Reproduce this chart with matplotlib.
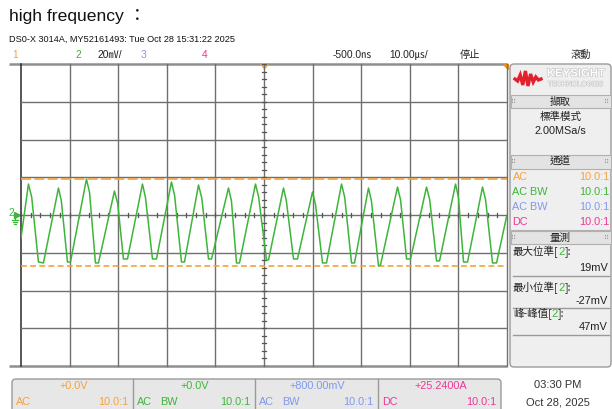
import matplotlib
matplotlib.use('Agg')
import matplotlib.pyplot as plt
from matplotlib.patches import FancyBboxPatch, Rectangle
import matplotlib.patheffects as pe
import numpy as np

# ---------------- data ----------------
time_us = [-50.0, -48.47, -47.8, -46.41, -45.38, -42.29, -41.7, -40.44, -39.82,
           -36.53, -35.9, -34.68, -34.06, -30.77, -30.1, -28.92, -28.09,
           -25.01, -24.4, -22.95, -22.12, -19.04, -18.4, -16.98, -16.36,
           -13.48, -12.8, -11.42, -10.80, -7.31, -6.7, -5.66, -5.04,
           -1.75, -1.1, 0.51, 0.93, 4.01, 4.6, 6.07, 6.89,
           9.98, 10.6, 12.04, 12.86, 15.95, 16.6, 18.01, 18.62,
           21.50, 22.1, 23.56, 23.97, 27.47, 28.1, 29.33, 30.15,
           33.44, 34.1, 35.50, 36.12, 39.41, 40.0, 41.06, 41.88,
           44.96, 45.6, 47.02, 47.85, 49.9]
volt_mV = [-12.2, 16.4, 9.5, -24.9, -25.4, 14.3, 7.4, -24.9, -24.9,
           19.0, 12.0, -25.4, -25.4, 12.7, 6.0, -23.3, -23.3,
           16.4, 9.5, -23.3, -23.3, 17.5, 10.5, -24.9, -24.9,
           15.9, 9.0, -23.3, -23.3, 14.3, 7.5, -25.4, -25.4,
           16.4, 9.5, -23.8, -23.8, 14.3, 7.5, -23.3, -23.3,
           12.2, 5.5, -25.4, -25.4, 16.4, 9.5, -25.4, -25.4,
           14.3, 7.5, -27.0, -26.5, 14.8, 8.0, -23.3, -23.3,
           14.8, 8.0, -24.3, -24.3, 16.4, 9.5, -24.9, -24.9,
           14.8, 8.0, -25.4, -25.4, -1.0]

max_level_mV = 19
min_level_mV = -27
pp_mV = 47

title = 'high frequency ：'
subtitle = 'DS0-X 3014A, MY52161493: Tue Oct 28 15:31:22 2025'
ch_colors = ['#f5a23c', '#3db53a', '#7f98ef', '#ee3796']
ch_offsets = ['+0.0V', '+0.0V', '+800.00mV', '+25.2400A']
ch_coupling_bar = [['AC'], ['AC', 'BW'], ['AC', 'BW'], ['DC']]
ch_coupling_panel = ['AC', 'AC BW', 'AC BW', 'DC']
ch_probe = ['10.0:1', '10.0:1', '10.0:1', '10.0:1']
meas_labels = ['最大位準', '最小位準', '峰-峰值']
meas_values = ['19mV', '-27mV', '47mV']
logo_wave = [0, 2, -4, 6, -8, 7, -5, 3, -2, 1, 0]

# ---------------- figure ----------------
plt.rcParams['font.family'] = ['Liberation Sans', 'Noto Sans CJK TC', 'DejaVu Sans']
W, H = 612, 409
fig = plt.figure(figsize=(6.12, 4.09), dpi=100)
fig.patch.set_facecolor('white')
ov = fig.add_axes([0, 0, 1, 1])
ov.set_xlim(0, W)
ov.set_ylim(H, 0)
ov.axis('off')

SANS = ['Liberation Sans', 'Noto Sans CJK TC', 'DejaVu Sans']
CJK = ['Noto Sans CJK TC', 'DejaVu Sans']

# header texts
ov.text(9, 17, title, fontsize=12.6, va='center', ha='left', color='#111111')
ov.text(9, 39.5, subtitle, fontsize=6.55, va='center', ha='left', color='#111111',
        family=SANS)
ST = 7.4
ov.text(15, 55, '1', fontsize=ST, color=ch_colors[0], ha='center', va='center')
ov.text(78, 55, '2', fontsize=ST, color=ch_colors[1], ha='center', va='center')
ov.text(98, 55, '20㎷/', fontsize=ST, color='#222222', ha='left', va='center')
ov.text(143, 55, '3', fontsize=ST, color=ch_colors[2], ha='center', va='center')
ov.text(205, 55, '4', fontsize=ST, color=ch_colors[3], ha='center', va='center')
ov.text(333, 55, '-500.0㎱', fontsize=ST, color='#222222', ha='left', va='center')
ov.text(389, 55, '10.00㎲/', fontsize=ST, color='#222222', ha='left', va='center')
ov.text(460, 55, '停止', fontsize=ST, color='#222222', ha='left', va='center', family=CJK)
ov.text(571, 55, '滾動', fontsize=ST, color='#222222', ha='left', va='center', family=CJK)

# graticule bounds in pixels
GX0, GX1, GY0, GY1 = 21, 507, 64, 366
ov.plot([9, GX1], [GY0, GY0], color='#8f8f8f', lw=1.8, solid_capstyle='butt', zorder=3)
ov.plot([9, GX1], [GY1, GY1], color='#8f8f8f', lw=1.8, solid_capstyle='butt', zorder=3)

ax = fig.add_axes([GX0 / W, 1 - GY1 / H, (GX1 - GX0) / W, (GY1 - GY0) / H])
ax.set_xlim(-50, 50)
ax.set_ylim(-80, 80)
ax.axis('off')
for t in range(-40, 51, 10):
    ax.axvline(t, color='#707070', lw=1.0, zorder=1, clip_on=False)
ax.axvline(-50, color='#2a2a2a', lw=1.1, zorder=1, clip_on=False)
for v in range(-60, 61, 20):
    ax.axhline(v, color='#707070', lw=1.0, zorder=1)
# minor ticks on the centre lines
tick_mv = 1.1
tick_us = 0.42
for t in np.arange(-50, 50.01, 2):
    ax.plot([t, t], [-tick_mv, tick_mv], color='#555555', lw=0.9, zorder=2)
for v in np.arange(-80, 80.01, 4):
    ax.plot([-tick_us, tick_us], [v, v], color='#555555', lw=0.9, zorder=2)

# cursor lines
ax.axhline(max_level_mV, color='#f5a23c', lw=1.2, ls=(0, (6, 2)), zorder=3)
ax.axhline(min_level_mV, color='#f5a23c', lw=1.2, ls=(0, (3.5, 2)), zorder=3)

# trace
ax.plot(time_us, volt_mV, color='#3db53a', lw=1.1, zorder=5)

# trigger markers
ov.plot([261.5, 264.5, 267.5], [64.5, 68.5, 64.5], color='#f5a23c', lw=1.2, zorder=6)
ov.fill([503, 507.5, 507.5], [64, 64, 68.5], color='#f08c1e', zorder=6)

# ground marker for channel 2
ov.text(11, 213.5, '2', fontsize=7.4, color=ch_colors[1], ha='center', va='center')
ov.plot([16.8], [214.5], marker='>', ms=4, color=ch_colors[1], mec=ch_colors[1])
ov.plot([14.5, 14.5], [214.5, 219], color=ch_colors[1], lw=0.9)
ov.plot([11.5, 17.5], [219.5, 219.5], color=ch_colors[1], lw=0.9)
ov.plot([12.5, 16.5], [221.5, 221.5], color=ch_colors[1], lw=0.9)
ov.plot([13.5, 15.5], [223.5, 223.5], color=ch_colors[1], lw=0.9)

# ---------------- side panel ----------------
PX0, PX1, PY0, PY1 = 510, 611, 64, 367
ov.add_patch(FancyBboxPatch((PX0, PY0), PX1 - PX0, PY1 - PY0,
                            boxstyle='round,pad=0,rounding_size=4',
                            fc='#efefef', ec='#9a9a9a', lw=1.0, zorder=1))
# logo
lx = np.linspace(515, 541, len(logo_wave))
ov.plot(lx, [79 + w for w in logo_wave], color='#e3202d', lw=2.4, zorder=3,
        solid_joinstyle='miter')
ov.text(576, 73.5, 'KEYSIGHT', fontsize=8.2, color='white', ha='center', va='center',
        fontweight='bold',
        path_effects=[pe.withStroke(linewidth=0.9, foreground='#c4c4c4')], zorder=3)
ov.text(576, 84.5, 'TECHNOLOGIES', fontsize=5.0, color='white', ha='center', va='center',
        path_effects=[pe.withStroke(linewidth=0.7, foreground='#c4c4c4')], zorder=3)

PT = 7.6
def header(y0, y1, label):
    ov.add_patch(Rectangle((PX0 + 0.5, y0), PX1 - PX0 - 1, y1 - y0,
                           fc='#e3e3e3', ec='#b0b0b0', lw=0.8, zorder=2))
    yc = (y0 + y1) / 2
    ov.text(560.5, yc, label, fontsize=PT, ha='center', va='center', color='#222222',
            family=CJK, zorder=3)
    ov.text(514, yc, '⠿', fontsize=5, ha='center', va='center', color='#9a9a9a',
            family=['DejaVu Sans'], zorder=3)
    ov.text(607, yc, '⠿', fontsize=5, ha='center', va='center', color='#9a9a9a',
            family=['DejaVu Sans'], zorder=3)

header(95, 108, '擷取')
ov.text(560.5, 117, '標準模式', fontsize=PT, ha='center', va='center', color='#222222', family=CJK)
ov.text(560.5, 131, '2.00MSa/s', fontsize=PT + 0.2, ha='center', va='center', color='#222222')
header(155, 168.5, '通道')
for i, yy in enumerate([177, 192, 207, 222]):
    ov.text(512.5, yy, ch_coupling_panel[i], fontsize=PT + 0.2, ha='left', va='center',
            color=ch_colors[i])
    ov.text(609, yy, ch_probe[i], fontsize=PT + 0.2, ha='right', va='center',
            color=ch_colors[i])
ov.plot([PX0 + 0.5, PX1 - 0.5], [229.5, 229.5], color='#b0b0b0', lw=0.8)
header(231, 244, '量測')
for i, (yl, yv, ys) in enumerate([(252, 268, 275.5), (288, 300.5, 307.5), (314, 327, 335)]):
    t1 = ov.text(513, yl, meas_labels[i] + '[', fontsize=PT, ha='left', va='center',
                 color='#222222', family=CJK)
    t2 = ov.annotate('2', xy=(1, 0.5), xycoords=t1, fontsize=PT + 0.6, ha='left',
                     va='center', color=ch_colors[1])
    ov.annotate(']:', xy=(1, 0.5), xycoords=t2, fontsize=PT, ha='left', va='center',
                color='#222222', family=CJK)
    ov.text(608, yv, meas_values[i], fontsize=PT + 0.3, ha='right', va='center',
            color='#222222')
    ov.plot([513, 609], [ys, ys], color='#9a9a9a', lw=1.0)

# ---------------- bottom channel bar ----------------
BX0, BX1, BY0 = 12, 501, 379
ov.add_patch(FancyBboxPatch((BX0, BY0), BX1 - BX0, 40,
                            boxstyle='round,pad=0,rounding_size=4',
                            fc='#e7e7e7', ec='#9a9a9a', lw=1.0, zorder=1))
edges = [12, 133, 255, 378, 501]
for xd in edges[1:-1]:
    ov.plot([xd, xd], [BY0, H], color='#9a9a9a', lw=1.0, zorder=2)
BT = 7.8
for i in range(4):
    x0, x1 = edges[i], edges[i + 1]
    ov.text((x0 + x1) / 2 + 1, 386, ch_offsets[i], fontsize=BT, ha='center', va='center',
            color=ch_colors[i])
    xs = x0 + 4
    for k, word in enumerate(ch_coupling_bar[i]):
        ov.text(xs + k * 23, 402, word, fontsize=BT, ha='left', va='center', color=ch_colors[i])
    ov.text(x1 - 5, 402, ch_probe[i], fontsize=BT, ha='right', va='center', color=ch_colors[i])

ov.text(558, 385, '03:30 PM', fontsize=8.0, ha='center', va='center', color='#333333')
ov.text(558, 402.5, 'Oct 28, 2025', fontsize=8.0, ha='center', va='center', color='#333333')

fig.savefig('out.png', dpi=100, facecolor='white')
